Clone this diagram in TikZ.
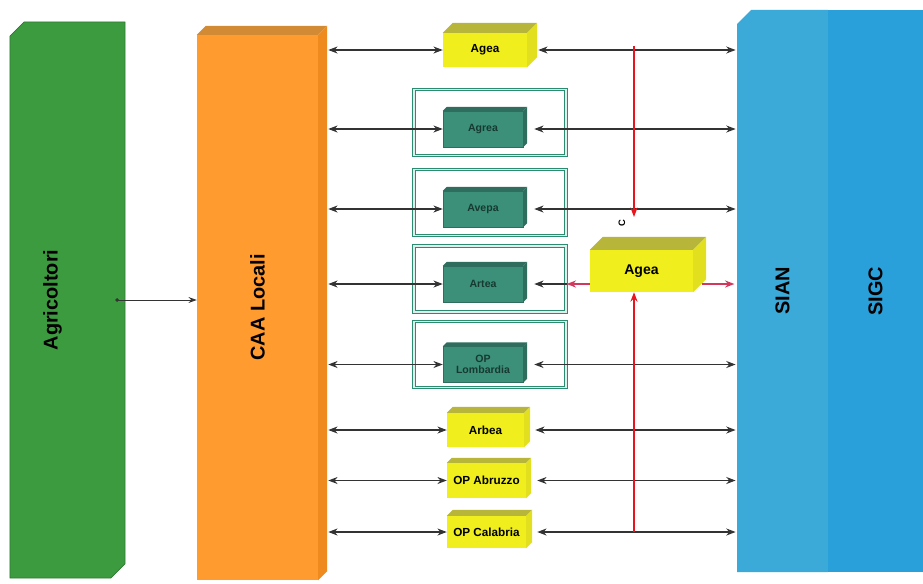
\documentclass[tikz,border=0pt]{standalone}
\usepackage{fontspec}
\setmainfont{Liberation Sans}
\usetikzlibrary{arrows.meta,shapes.misc}

\definecolor{agrigreen}{HTML}{3D9B3F}
\definecolor{agridark}{HTML}{2E7A30}
\definecolor{caaorange}{HTML}{FF9B2F}
\definecolor{caatop}{HTML}{D38A35}
\definecolor{caaside}{HTML}{EE8A1E}
\definecolor{sianblue}{HTML}{3BAAD9}
\definecolor{sigcblue}{HTML}{2AA0DA}
\definecolor{yfront}{HTML}{F0EE1C}
\definecolor{ytop}{HTML}{B7B53A}
\definecolor{yside}{HTML}{E2E01E}
\definecolor{tfront}{HTML}{3C907A}
\definecolor{tdark}{HTML}{163A30}
\definecolor{ttop}{HTML}{2F6E5E}
\definecolor{frameteal}{HTML}{2C8C72}
\definecolor{agred}{HTML}{E8141E}
\definecolor{agpink}{HTML}{D2385E}

% top and right faces of a box: node, depth, top colour, side colour
\newcommand{\boxfaces}[4]{%
  \fill[#3] (#1.north west) -- ++(#2,-#2) -- ([shift={(#2,-#2)}]#1.north east) -- (#1.north east) -- cycle;
  \fill[#4] (#1.north east) -- ++(#2,-#2) -- ([shift={(#2,-#2)}]#1.south east) -- (#1.south east) -- cycle;
}

\begin{document}
\begin{tikzpicture}[x=0.03cm, y=-0.03cm,
    >={Stealth[length=8pt,width=6pt]},
    column/.style={inner sep=0pt, font=\bfseries\fontsize{17}{20}\selectfont},
    ybox/.style={fill=yfront, inner sep=0pt, minimum width=2.37cm, minimum height=1.02cm,
                 font=\bfseries\fontsize{10}{11}\selectfont},
    tbox/.style={fill=tfront, draw=ttop, line width=0.4pt, inner sep=0pt, minimum width=2.4cm,
                 minimum height=1.08cm, align=center, text=tdark,
                 font=\bfseries\fontsize{9}{9.5}\selectfont},
    tframe/.style={draw=frameteal, line width=1.1pt, double=frameteal!15, double distance=1pt,
                   minimum width=4.56cm, minimum height=1.98cm},
    link/.style={<->, draw=black!80, line width=1pt},
    redline/.style={->, draw=agred, line width=1.7pt},
    redlink/.style={->, draw=agpink, line width=2.2pt}
]
\useasboundingbox (0,0) rectangle (923,583);

\node[column, chamfered rectangle, chamfered rectangle corners={north west,south east},
      chamfered rectangle xsep=0.3cm, fill=agrigreen, draw=agridark, line width=0.6pt,
      minimum width=3.45cm, minimum height=16.68cm] (agri) at (67.5,300)
      {\rotatebox{90}{Agricoltori}\hspace*{0.9cm}};
\node[column, fill=caaorange, minimum width=3.63cm, minimum height=16.35cm] (caa) at (257.5,307.5)
      {\rotatebox{90}{CAA Locali}};
\boxfaces{caa}{9}{caatop}{caaside}
\node[column, chamfered rectangle, chamfered rectangle corners={north west},
      chamfered rectangle xsep=0.3cm, fill=sianblue,
      minimum width=2.73cm, minimum height=16.86cm] (sian) at (782.5,291) {\rotatebox{90}{SIAN}};
\node[column, fill=sigcblue, minimum width=2.85cm, minimum height=16.86cm] (sigc) at (875.5,291)
      {\rotatebox{90}{SIGC}};

\node[tframe] (tframe1) at (490,122.5) {};
\node[tframe] (tframe2) at (490,202.5) {};
\node[tframe] (tframe3) at (490,279) {};
\node[tframe] (tframe4) at (490,354.5) {};

\node[ybox, minimum width=2.52cm] (agea1) at (485,50) {Agea};
\boxfaces{agea1}{10}{ytop}{yside}
\node[tbox] (agrea) at (483,129) {Agrea};
\boxfaces{agrea}{4}{ttop}{ttop}
\node[tbox] (avepa) at (483,209) {Avepa};
\boxfaces{avepa}{4}{ttop}{ttop}
\node[tbox] (artea) at (483,284) {Artea};
\boxfaces{artea}{4}{ttop}{ttop}
\node[tbox] (oplomb) at (483,364.5) {OP\\Lombardia};
\boxfaces{oplomb}{4}{ttop}{ttop}
\node[ybox, minimum width=2.31cm] (arbea) at (485.5,430) {Arbea};
\boxfaces{arbea}{6}{ytop}{yside}
\node[ybox, minimum height=1.05cm] (abruzzo) at (486.5,480.5) {OP Abruzzo};
\boxfaces{abruzzo}{5}{ytop}{yside}
\node[ybox, minimum height=0.96cm] (calabria) at (486.5,532) {OP Calabria};
\boxfaces{calabria}{6}{ytop}{yside}

\node[ybox, minimum width=3.09cm, minimum height=1.26cm, font=\bfseries\fontsize{12}{13}\selectfont]
      (agea2) at (641.5,271) {Agea};
\boxfaces{agea2}{13}{ytop}{yside}
\node[inner sep=0pt] (cmark) at (622,223) {\rotatebox{90}{\footnotesize\bfseries C}};

\draw[{Circle[length=3pt]}-{Stealth[length=7pt,width=5pt]}, black!80, line width=0.8pt]
     ([xshift=-0.3cm]agri.east) -- (caa.west |- agri.east);

\foreach \b in {agea1,agrea,avepa,artea,oplomb,arbea,abruzzo,calabria}
  \draw[link, shorten <=0.3cm] (caa.east |- \b.west) -- (\b.west);
\foreach \b in {agea1,agrea,avepa,oplomb,arbea,abruzzo,calabria}
  \draw[link, shorten <=0.33cm, shorten >=1pt] (\b.east) -- (sian.west |- \b.east);
\draw[link, <-, shorten <=0.33cm] (artea.east) -- (tframe3.east |- artea);

\coordinate (redtop) at (634,46);
\coordinate (redtip) at (634,217);
\coordinate (redbot) at (634,532);
\draw[redline] (redtop) -- (redtip);
\draw[redline] (redbot) -- (redbot |- agea2.south);
\draw[redlink] (agea2.west |- artea) -- (tframe3.east |- artea);
\draw[redlink, shorten <=0.25cm, shorten >=2pt] (agea2.east |- artea) -- (sian.west |- artea);

\end{tikzpicture}
\end{document}
